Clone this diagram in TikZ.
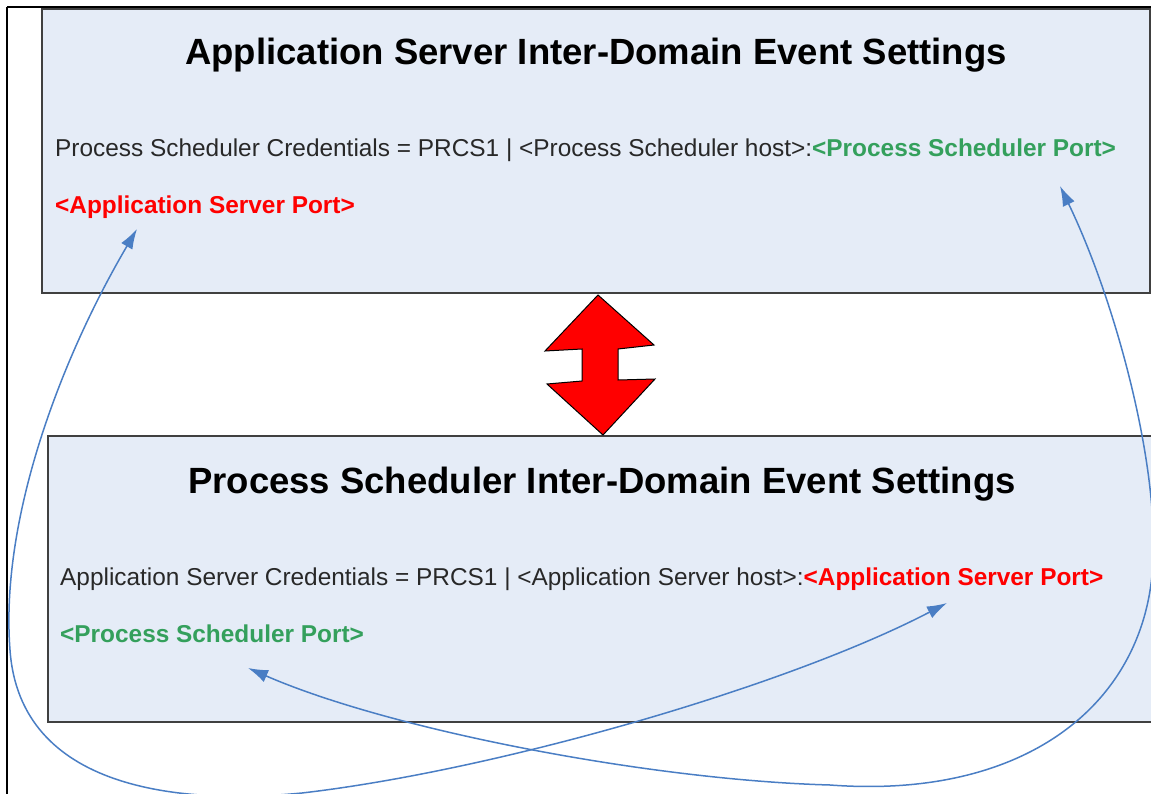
\documentclass[tikz,border=0pt]{standalone}
\usepackage{fontspec}
\setmainfont{Liberation Sans}
\usetikzlibrary{arrows.meta}
\definecolor{boxfill}{RGB}{229,236,247}
\definecolor{boxline}{RGB}{64,64,64}
\definecolor{txtgray}{RGB}{40,40,40}
\definecolor{portgreen}{RGB}{52,160,92}
\definecolor{portred}{RGB}{255,0,0}
\definecolor{curveblue}{RGB}{74,126,196}
\tikzset{
  panel/.style={fill=boxfill, draw=boxline, line width=2.2pt},
  titletext/.style={anchor=base, inner sep=0pt, font=\fontsize{36.5}{40}\selectfont\bfseries, text=black},
  bodytext/.style={anchor=base west, inner sep=0pt, font=\fontsize{24.4}{28}\selectfont, text=txtgray},
  gport/.style={text=portgreen, font=\fontsize{24.4}{28}\selectfont\bfseries},
  rport/.style={text=portred, font=\fontsize{24.4}{28}\selectfont\bfseries},
  link/.style={draw=curveblue, line width=1.5pt, {Latex[length=20pt,width=13pt]}-{Latex[length=20pt,width=13pt]}},
  bigarrow/.style={fill=red, draw=black, line width=1pt, line join=miter}
}
\begin{document}
\begin{tikzpicture}[x=1pt,y=-1pt]
\useasboundingbox (0,0) rectangle (1151,794);
\begin{scope}
\clip (0,0) rectangle (1151,794);
% outer frame
\draw[black, line width=1.5pt] (7,7) -- (7,800);
\draw[black, line width=2.5pt] (7,7) -- (1160,7);
% panels
\draw[panel] (42,9) rectangle (1150,293);
\draw[panel] (48,436) rectangle (1160,722);
% texts
\node[titletext] (title1) at (596,65) {Application Server Inter-Domain Event Settings};
\node[bodytext] (line1) at (55,157) {Process Scheduler Credentials = PRCS1 | <Process Scheduler host>:{\bfseries\color{portgreen}<Process Scheduler Port>}};
\node[bodytext, rport] (port1) at (55,214) {<Application Server Port>};
\node[titletext] (title2) at (602,493) {Process Scheduler Inter-Domain Event Settings};
\node[bodytext] (line2) at (60,585) {Application Server Credentials = PRCS1 | <Application Server host>:{\bfseries\color{portred}<Application Server Port>}};
\node[bodytext, gport] (port2) at (60,642) {<Process Scheduler Port>};
% double arrow
\draw[bigarrow] (598,295) -- (654,345) -- (618,349) -- (618,380) -- (655,379) -- (603,435)
  -- (547,384) -- (582,381) -- (582,349) -- (545,351) -- cycle;
% connector end points
\coordinate (aT) at (137,229);
\coordinate (aB) at (947,603);
\coordinate (bT) at (1060,186);
\coordinate (bB) at (248,668);
% curves
\draw[link] (aT) .. controls (60,360) and (0,520) .. (10,650)
  .. controls (20,790) and (180,805) .. (302,793)
  .. controls (500,770) and (790,685) .. (aB);
\draw[link] (bT) .. controls (1115,300) and (1158,460) .. (1153,560)
  .. controls (1148,700) and (1030,800) .. (830,785)
  .. controls (650,780) and (390,730) .. (bB);
\end{scope}
\end{tikzpicture}
\end{document}
